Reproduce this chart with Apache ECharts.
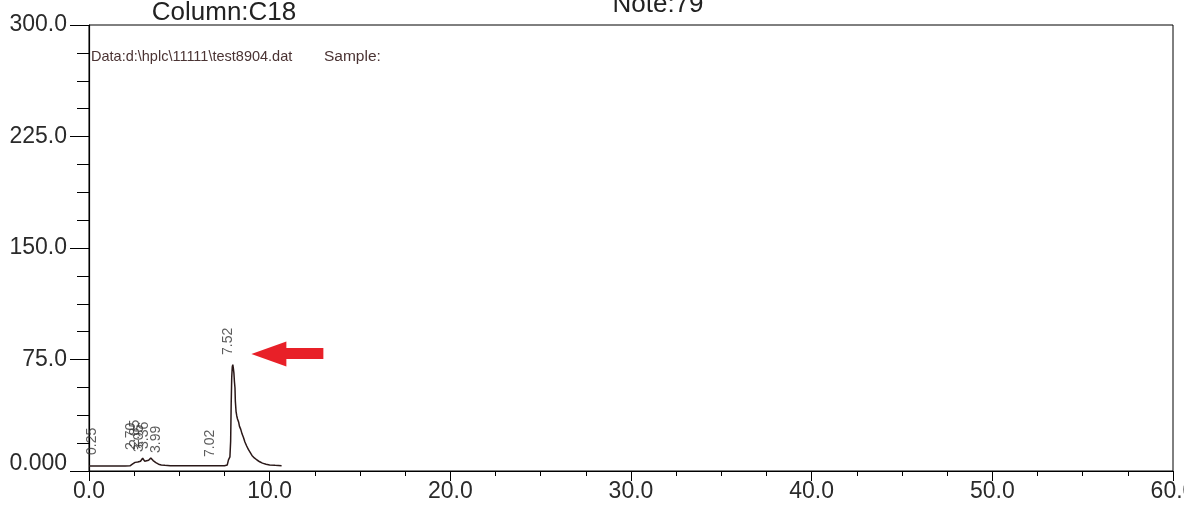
<!DOCTYPE html>
<html>
<head>
<meta charset="utf-8">
<script src="https://cdn.jsdelivr.net/npm/echarts@6/dist/echarts.min.js"></script>
<style>
html,body{margin:0;padding:0;background:#fff;}
#c{width:1184px;height:505px;}
</style>
</head>
<body>
<div id="c"></div>
<script>
// Tick labels
const xTicks = [0, 10, 20, 30, 40, 50, 60];
const xTickLabels = ['0.0', '10.0', '20.0', '30.0', '40.0', '50.0', '60.0'];
const yTicks = [0, 75, 150, 225, 300];
const yTickLabels = ['0.000', '75.0', '150.0', '225.0', '300.0'];

// Chromatogram trace: retention time (min), signal
const traceTime = [0, 0.5, 1.0, 1.5, 2.0, 2.27, 2.4, 2.55, 2.7, 2.85, 2.97, 3.08, 3.18, 3.3, 3.42, 3.55, 3.7, 3.85, 4.0, 4.2, 4.5, 5.0, 5.5, 6.0, 6.5, 7.0, 7.5, 7.65, 7.72, 7.76, 7.8, 7.84, 7.87, 7.9, 7.93, 7.96, 7.99, 8.02, 8.05, 8.08, 8.1, 8.14, 8.18, 8.22, 8.28, 8.33, 8.4, 8.47, 8.55, 8.63, 8.72, 8.82, 8.92, 9.02, 9.15, 9.3, 9.45, 9.6, 9.8, 10.0, 10.3, 10.66];
const traceSignal = [3.4, 3.4, 3.4, 3.4, 3.4, 3.5, 4.6, 5.8, 6.0, 6.6, 8.6, 6.6, 5.6, 7.2, 8.8, 7.0, 5.6, 4.6, 4.1, 3.8, 3.6, 3.5, 3.5, 3.5, 3.5, 3.5, 3.5, 4.0, 7.5, 8.5, 9.5, 20, 45, 63, 70, 71.5, 69, 66, 60, 56, 47, 40, 37, 35, 33, 30, 28, 25, 22.5, 19.5, 17, 14.5, 12.5, 10.5, 8.8, 7.4, 6.2, 5.3, 4.6, 4.1, 3.8, 3.6];

// Peak annotations: label text, time, signal at label foot
const peakNames = ['0.25', '2.70', '2.85', '3.05', '3.36', '3.99', '7.02', '7.52'];
const peakTime = [0.17, 2.32, 2.55, 2.77, 3.04, 3.71, 6.70, 7.69];
const peakFoot = [10.8, 14.1, 16.1, 12.8, 14.8, 12.1, 9.4, 78];

// Arrow annotation location (time, signal)
const arrowAt = [10.98, 78.7];

const traceData = traceTime.map((t, i) => [t, traceSignal[i]]);
const peakData = peakNames.map((n, i) => [peakTime[i], peakFoot[i], n]);

const chart = echarts.init(document.getElementById('c'), null, {renderer: 'canvas'});
const FF = 'Liberation Sans, Arial, sans-serif';
const axisFont = {fontFamily: FF, fontSize: 23, color: '#2a2a2a'};

chart.setOption({
  animation: false,
  backgroundColor: '#fff',
  grid: {left: 89, right: 11, top: 25, bottom: 34, show: true, borderColor: '#000', borderWidth: 1, backgroundColor: 'transparent', outerBoundsMode: 'none', containLabel: false},
  graphic: [
    {type: 'text', x: 224, y: 13, style: {text: 'Column:C18', fontFamily: FF, fontSize: 26, fill: '#222', align: 'center', verticalAlign: 'middle'}},
    {type: 'text', x: 658, y: 5, style: {text: 'Note:79', fontFamily: FF, fontSize: 26, fill: '#222', align: 'center', verticalAlign: 'middle'}},
    {type: 'text', x: 91, y: 57, style: {text: 'Data:d:\\hplc\\11111\\test8904.dat', fontFamily: FF, fontSize: 14.5, fill: '#4a3333', align: 'left', verticalAlign: 'middle'}},
    {type: 'text', x: 324, y: 57, style: {text: 'Sample:', fontFamily: FF, fontSize: 15.5, fill: '#4a3333', align: 'left', verticalAlign: 'middle'}}
  ],
  xAxis: {
    type: 'value', min: xTicks[0], max: xTicks[xTicks.length - 1], interval: 10,
    axisLine: {show: true, onZero: false, lineStyle: {color: '#000', width: 1.2}},
    axisTick: {show: true, inside: false, length: 10, lineStyle: {color: '#000'}},
    minorTick: {show: true, splitNumber: 4, length: 5, lineStyle: {color: '#000'}},
    splitLine: {show: false},
    axisLabel: Object.assign({margin: 9, showMaxLabel: true, hideOverlap: false, formatter: v => xTickLabels[xTicks.indexOf(v)] ?? ''}, axisFont)
  },
  yAxis: {
    type: 'value', min: yTicks[0], max: yTicks[yTicks.length - 1], interval: 75,
    axisLine: {show: true, onZero: false, lineStyle: {color: '#000', width: 1.2}},
    axisTick: {show: true, inside: false, length: 19, lineStyle: {color: '#000'}},
    minorTick: {show: true, splitNumber: 4, length: 12, lineStyle: {color: '#000'}},
    splitLine: {show: false},
    axisLabel: Object.assign({margin: 22, hideOverlap: false, formatter: v => {
      const s = yTickLabels[yTicks.indexOf(v)] ?? '';
      return v === 0 ? '{z|' + s + '}' : s;
    }, rich: {z: {fontFamily: FF, fontSize: 23, color: '#2a2a2a', padding: [0, 0, 14, 0]}}}, axisFont)
  },
  series: [
    {
      type: 'line', data: traceData, showSymbol: false, symbol: 'none',
      lineStyle: {color: '#2a1818', width: 1.5},
      markPoint: {
        silent: true,
        data: [{coord: arrowAt, symbol: 'path://M0,12.5L35,0L35,6.5L72,6.5L72,17.5L35,17.5L35,25Z', symbolSize: [72, 25], itemStyle: {color: '#e82028'}, label: {show: false}}]
      }
    },
    {
      type: 'scatter', data: peakData, symbolSize: 0, silent: true,
      label: {
        show: true, position: 'inside', rotate: 90, align: 'left', verticalAlign: 'middle',
        fontFamily: FF, fontSize: 14, color: '#333',
        formatter: p => p.value[2]
      }
    }
  ]
});
</script>
</body>
</html>
